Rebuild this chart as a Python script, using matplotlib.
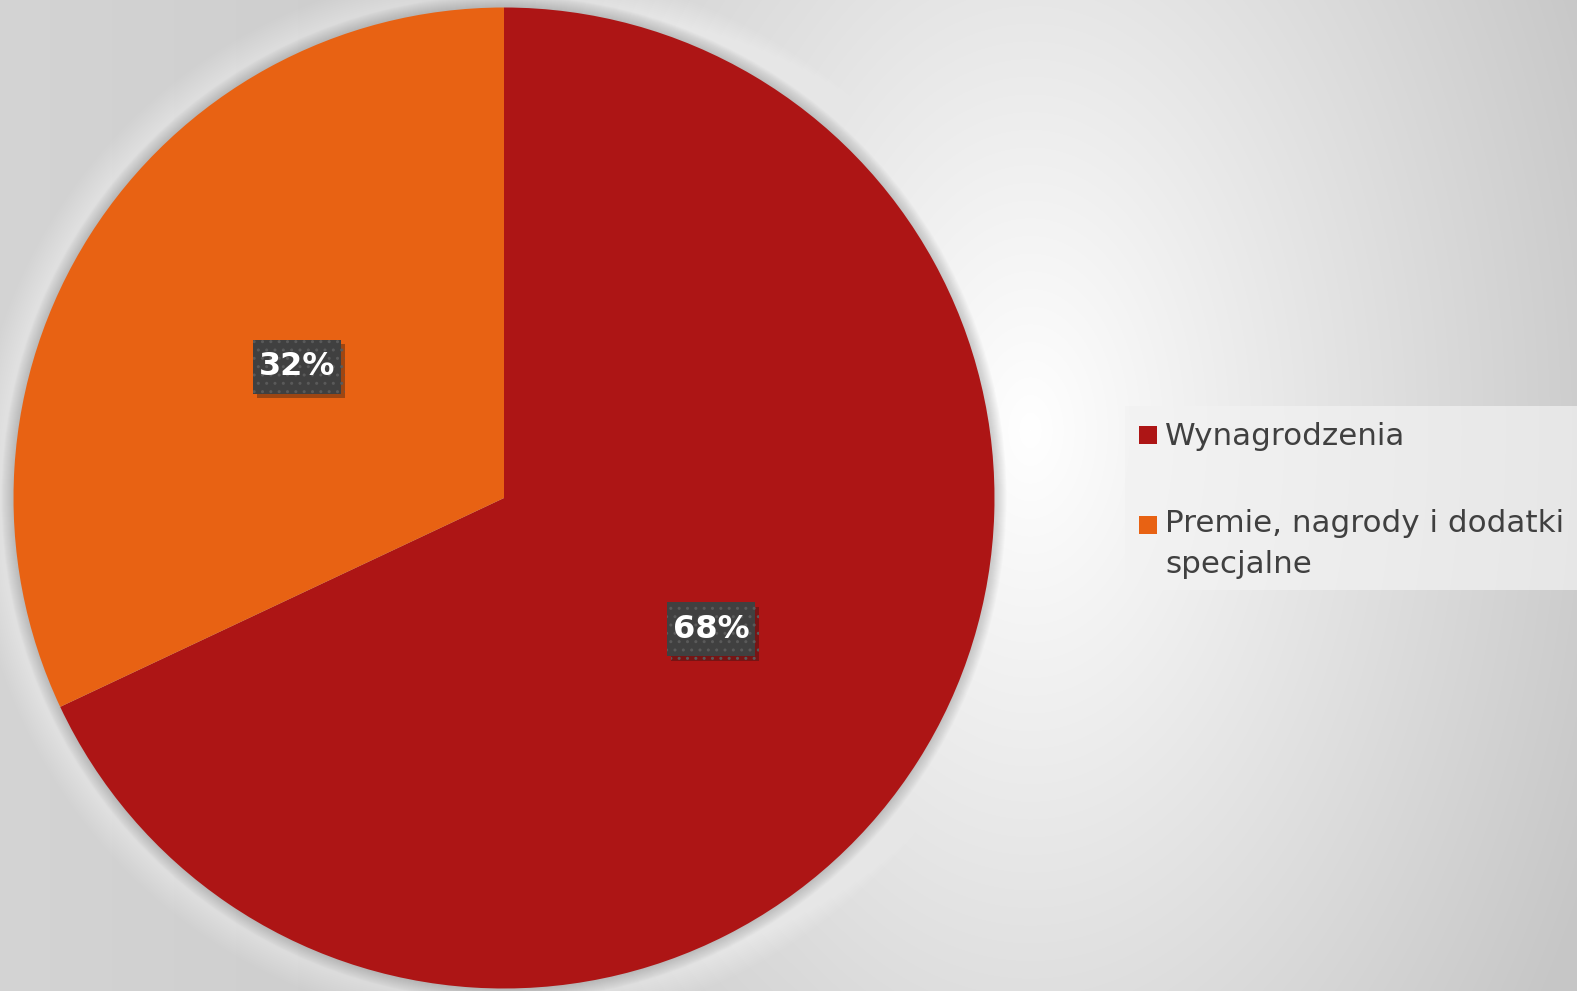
import numpy as np
import matplotlib.pyplot as plt
from matplotlib.patches import Circle, Rectangle
from matplotlib.path import Path
import matplotlib.patheffects as pe

# data
labels = ['Wynagrodzenia', 'Premie, nagrody i dodatki\nspecjalne']
shares = [68, 32]
colors = ['#AD1515', '#E86213']

W, H = 1577, 991
fig = plt.figure(figsize=(W / 100, H / 100), dpi=100)
ax = fig.add_axes([0, 0, 1, 1])

# background: soft gradient, brightest just right of the pie
yy, xx = np.mgrid[0:H, 0:W]
d = np.hypot(xx - 1030, (yy - 430) / 1.6)
dark = 0.22 * np.clip(d / 620, 0, 1) * np.clip(0.77 + 0.23 * xx / 800, 0, 1)
bg = 1 - dark
ax.imshow(np.dstack([bg, bg, bg]), extent=[0, W, 0, H], origin='upper',
          zorder=0, interpolation='bilinear')

cx, cy, r = 504, H - 498, 490.5

# light halo and soft shadow round the pie
for k in range(40, 14, -2):
    ax.add_patch(Circle((cx, cy), r + k, color='white', alpha=0.04, lw=0, zorder=1))
for k in range(12, 0, -1):
    ax.add_patch(Circle((cx, cy), r + k, color='#7a7a7a', alpha=0.03, lw=0, zorder=1))

wedges, texts, autotexts = ax.pie(
    shares, colors=colors, startangle=90, counterclock=False,
    center=(cx, cy), radius=r, autopct='%1.0f%%', pctdistance=0.5,
    wedgeprops=dict(linewidth=0), frame=True,
    textprops=dict(color='white', fontsize=23, fontweight='bold',
                   family='DejaVu Sans'))
for w in wedges:
    w.set_zorder(2)


def label_box(x0, y0, width, height, mutation_size):
    # square box, more padding top/bottom than at the sides
    px, py = 0.17 * mutation_size, 0.36 * mutation_size
    x1, y1 = x0 + width + px, y0 + height + py
    x0, y0 = x0 - px, y0 - py
    return Path([(x0, y0), (x1, y0), (x1, y1), (x0, y1), (x0, y0)], closed=True)


for t in autotexts:
    t.set_zorder(5)
    t.set_bbox(dict(boxstyle=label_box, facecolor='#404040',
                    edgecolor='#5a5a5a', hatch='..', linewidth=0))
    t.get_bbox_patch().set_path_effects(
        [pe.SimplePatchShadow(offset=(3, -3), alpha=0.35), pe.Normal()])

# legend drawn by hand so the square sits on the first text line
ax.add_patch(Rectangle((1125, H - 590), W - 1125, 184, facecolor='#f2f2f2',
                       alpha=0.7, lw=0, zorder=3))
baselines = [445, 535]
line_gap = 38
for w, lab, base in zip(wedges, labels, baselines):
    ax.add_patch(Rectangle((1139, H - base + 1), 18, 18,
                           facecolor=w.get_facecolor(), lw=0, zorder=4))
    nextra = lab.count('\n')
    ax.text(1165, H - base - nextra * line_gap, lab, fontsize=22.3, color='#404040',
            va='baseline', ha='left', linespacing=1.51, zorder=4)

ax.set_xlim(0, W)
ax.set_ylim(0, H)
ax.set_aspect('auto')
ax.axis('off')

fig.savefig('out.png', dpi=100)
